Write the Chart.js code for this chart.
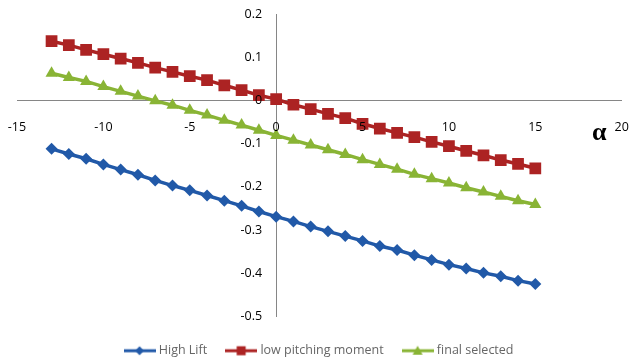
<!DOCTYPE html>
<html>
<head>
<meta charset="utf-8">
<script src="https://cdn.jsdelivr.net/npm/chart.js@4.4.1/dist/chart.umd.min.js"></script>
<style>
html,body{margin:0;padding:0;background:#fff;}
canvas{display:block;}
</style>
</head>
<body>
<canvas id="c" width="630" height="360"></canvas>
<script>
const alpha = [-13,-12,-11,-10,-9,-8,-7,-6,-5,-4,-3,-2,-1,0,1,2,3,4,5,6,7,8,9,10,11,12,13,14,15];
const highLift = [-0.112,-0.124,-0.135,-0.148,-0.160,-0.172,-0.185,-0.197,-0.208,-0.220,-0.232,-0.244,-0.257,-0.269,-0.280,-0.292,-0.303,-0.314,-0.325,-0.337,-0.346,-0.358,-0.369,-0.380,-0.389,-0.399,-0.407,-0.417,-0.425];
const lowPitching = [0.137,0.128,0.117,0.107,0.097,0.087,0.076,0.066,0.056,0.047,0.035,0.024,0.012,0.003,-0.010,-0.020,-0.031,-0.041,-0.054,-0.065,-0.075,-0.085,-0.096,-0.106,-0.117,-0.127,-0.138,-0.147,-0.157];
const finalSelected = [0.063,0.053,0.044,0.032,0.021,0.010,-0.001,-0.011,-0.023,-0.034,-0.046,-0.057,-0.069,-0.081,-0.092,-0.103,-0.114,-0.125,-0.137,-0.148,-0.159,-0.171,-0.181,-0.191,-0.202,-0.212,-0.222,-0.232,-0.241];
const seriesNames = ['High Lift','low pitching moment','final selected'];
const xTickLabels = ['-15','-10','-5','0','5','10','15','20'];
const yTickLabels = ['-0.5','-0.4','-0.3','-0.2','-0.1','0','0.1','0.2'];
const axisTitle = 'α';

const colors = ['#2159A8','#AC2323','#89B435'];
const styles = ['rectRot','rect','triangle'];
const radii = [6,8.3,7];
const FONT = '"Open Sans", "Liberation Sans", sans-serif';
const FS = 12.5;

function legendIcon(color, style){
  const c = document.createElement('canvas');
  c.width = 32; c.height = 14;
  const g = c.getContext('2d');
  g.strokeStyle = color; g.lineWidth = 3;
  g.beginPath(); g.moveTo(0,7); g.lineTo(32,7); g.stroke();
  g.fillStyle = color;
  g.beginPath();
  if (style === 'rectRot'){ g.moveTo(16,2.5); g.lineTo(20.5,7); g.lineTo(16,11.5); g.lineTo(11.5,7); g.closePath(); }
  else if (style === 'rect'){ g.rect(11.5,2.5,9,9); }
  else { g.moveTo(16,2); g.lineTo(21,11); g.lineTo(11,11); g.closePath(); }
  g.fill();
  return c;
}

function mk(vals){ return alpha.map((a,i)=>({x:a, y:vals[i]})); }
const allSeries = [highLift, lowPitching, finalSelected];

const labelPlugin = {
  id:'axisLabels',
  afterDraw(chart){
    const {ctx, scales} = chart;
    const xs = scales.x, ys = scales.y;
    const x0 = xs.getPixelForValue(0);
    const y0 = ys.getPixelForValue(0);
    ctx.save();
    ctx.font = FS + 'px ' + FONT;
    ctx.fillStyle = '#000';
    ctx.textBaseline = 'middle';
    ctx.textAlign = 'right';
    ys.ticks.forEach((t, i) => {
      ctx.fillText(yTickLabels[i], x0 - 14, ys.getPixelForValue(t.value));
    });
    ctx.textAlign = 'center';
    xs.ticks.forEach((t, i) => {
      ctx.fillText(xTickLabels[i], xs.getPixelForValue(t.value), y0 + 27.5);
    });
    ctx.font = 'bold 26px "Liberation Serif", "DejaVu Serif", serif';
    ctx.fillText(axisTitle, xs.getPixelForValue(18.7), y0 + 33);
    ctx.restore();
  }
};

new Chart(document.getElementById('c'), {
  type:'line',
  data:{
    datasets: allSeries.map((vals,i)=>({
      label: seriesNames[i],
      data: mk(vals),
      borderColor: colors[i],
      backgroundColor: colors[i],
      borderWidth: 3.5,
      pointStyle: styles[i],
      pointRadius: radii[i],
      pointBorderWidth: 0,
      pointBackgroundColor: colors[i],
      tension: 0,
      fill: false
    }))
  },
  options:{
    responsive:false,
    animation:false,
    events:[],
    layout:{ padding:{left:17, right:7, top:14, bottom:-7} },
    scales:{
      x:{
        type:'linear', min:-15, max:20,
        position:{y:0},
        grid:{display:false, drawTicks:false},
        border:{display:true, color:'#868686', width:1},
        ticks:{display:false, stepSize:5}
      },
      y:{
        type:'linear', min:-0.5, max:0.2,
        position:{x:0},
        grid:{display:false, drawTicks:false},
        border:{display:true, color:'#868686', width:1},
        ticks:{display:false, stepSize:0.1}
      }
    },
    plugins:{
      legend:{
        position:'bottom',
        title:{display:true, text:'', font:{size:5}, padding:{top:1, bottom:0}},
        labels:{
          usePointStyle:true, pointStyleWidth:26, padding:21,
          color:'#000', font:{family:FONT, size:FS},
          generateLabels:(chart)=> chart.data.datasets.map((ds,i)=>({
            text: ds.label, pointStyle: legendIcon(colors[i], styles[i]),
            fillStyle: colors[i], strokeStyle: colors[i], lineWidth:0, datasetIndex:i, hidden:false
          }))
        }
      },
      tooltip:{enabled:false}
    }
  },
  plugins:[labelPlugin]
});
</script>
</body>
</html>
